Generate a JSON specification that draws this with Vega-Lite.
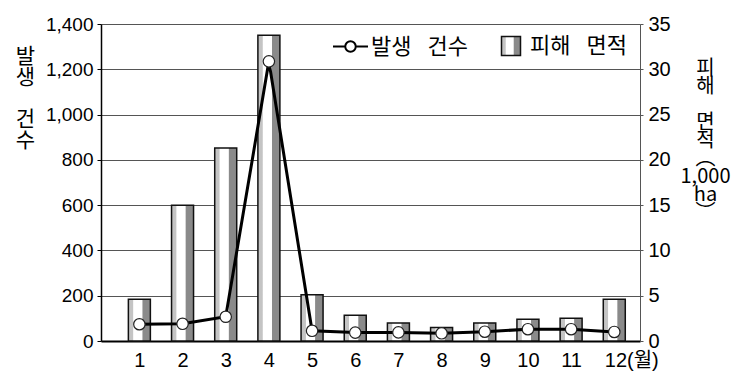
{
  "$schema": "https://vega.github.io/schema/vega-lite/v6.json",
  "width": 539,
  "height": 317,
  "autosize": "none",
  "padding": {"left": 101, "top": 24, "right": 101, "bottom": 42},
  "background": "white",
  "config": {"view": {"stroke": null}, "font": "Liberation Sans"},
  "data": {"values": [
    {"month": 1, "count": 74, "area": 4.6},
    {"month": 2, "count": 76, "area": 15.0},
    {"month": 3, "count": 107, "area": 21.3},
    {"month": 4, "count": 1235, "area": 33.75},
    {"month": 5, "count": 45, "area": 5.1},
    {"month": 6, "count": 37, "area": 2.85},
    {"month": 7, "count": 38, "area": 2.0},
    {"month": 8, "count": 34, "area": 1.5},
    {"month": 9, "count": 41, "area": 2.0},
    {"month": 10, "count": 52, "area": 2.4},
    {"month": 11, "count": 52, "area": 2.5},
    {"month": 12, "count": 40, "area": 4.6}
  ]},
  "encoding": {
    "x": {
      "field": "month", "type": "quantitative",
      "scale": {"domain": [0.227, 12.48], "nice": false, "zero": false},
      "axis": {
        "values": [1,2,3,4,5,6,7,8,9,10,11,12],
        "title": null, "grid": false, "ticks": false,
        "domainColor": "black", "domainWidth": 2,
        "labelFont": "Liberation Sans, Noto Sans CJK KR", "labelFontSize": 20, "labelColor": "black",
        "labelPadding": 9, "labelFlush": false, "labelOverlap": false,
        "labelExpr": "datum.value == 12 ? '12(월)' : datum.label",
        "labelAlign": {"condition": {"test": "datum.value == 12", "value": "left"}, "value": "center"},
        "labelOffset": {"condition": {"test": "datum.value == 12", "value": -10}, "value": 0}
      }
    }
  },
  "layer": [
    {
      "mark": {"type": "bar", "size": 22, "stroke": "#111", "strokeWidth": 1.5,
        "fill": {"gradient": "linear", "x1": 0, "y1": 0, "x2": 1, "y2": 0, "stops": [
            {"offset": 0, "color": "#c4c4c4"},
            {"offset": 0.2, "color": "#c4c4c4"},
            {"offset": 0.24, "color": "#ffffff"},
            {"offset": 0.62, "color": "#ffffff"},
            {"offset": 0.66, "color": "#8a8a8a"},
            {"offset": 1, "color": "#8a8a8a"}
        ]}},
      "encoding": {
        "y": {
          "field": "area", "type": "quantitative",
          "scale": {"domain": [0, 35], "nice": false},
          "axis": {
            "orient": "right", "values": [0,5,10,15,20,25,30,35], "format": "d", "grid": false,
            "tickSize": 3, "tickColor": "#555", "domainColor": "#555", "domainWidth": 1,
            "labelFontSize": 20, "labelPadding": 5, "labelColor": "black", "labelOverlap": false,
            "title": ["피","해","\u200b","면","적","︵","1,000","ha","︶"],
            "titleAngle": 0, "titleX": 65, "titleY": 34, "titleAlign": "center", "titleBaseline": "top",
            "titleFont": "Noto Sans CJK KR", "titleFontSize": 20, "titleFontWeight": "normal",
            "titleLineHeight": 18, "titleColor": "black"
          }
        },
        "opacity": {
          "datum": "피해 면적", "type": "nominal",
          "scale": {"range": [1]},
          "legend": {
            "orient": "none", "legendX": 399, "legendY": 11, "padding": 0,
            "title": null, "symbolType": "square", "symbolSize": 361,
            "labelFont": "Noto Sans CJK KR", "labelFontSize": 22, "labelColor": "black",
            "labelOffset": 8, "labelLimit": 0,
            "labelExpr": "replace(datum.label, ' ', '\u2002 ')",
            "encode": {"symbols": {"update": {
              "fill": {"value": {"gradient": "linear", "x1": 0, "y1": 0, "x2": 1, "y2": 0, "stops": [
                {"offset": 0, "color": "#c4c4c4"},
                {"offset": 0.2, "color": "#c4c4c4"},
                {"offset": 0.24, "color": "#ffffff"},
                {"offset": 0.62, "color": "#ffffff"},
                {"offset": 0.66, "color": "#8a8a8a"},
                {"offset": 1, "color": "#8a8a8a"}
              ]}},
              "stroke": {"value": "black"}, "strokeWidth": {"value": 1.5}, "opacity": {"value": 1}}}}
          }
        }
      }
    },
    {
      "mark": {"type": "line", "strokeWidth": 3},
      "encoding": {
        "y": {
          "field": "count", "type": "quantitative",
          "scale": {"domain": [0, 1400], "nice": false},
          "axis": {
            "orient": "left", "values": [0,200,400,600,800,1000,1200,1400], "format": ",d",
            "grid": true, "gridColor": "#555", "gridWidth": 1,
            "tickSize": 4, "tickColor": "black", "domainColor": "black", "domainWidth": 1.5,
            "labelFontSize": 19, "labelPadding": 4, "labelColor": "black", "labelOverlap": false,
            "title": ["발","생","\u200b","건","수"],
            "titleAngle": 0, "titleX": -76, "titleY": 21, "titleAlign": "center", "titleBaseline": "top",
            "titleFont": "Noto Sans CJK KR", "titleFontSize": 21, "titleFontWeight": "normal",
            "titleLineHeight": 21, "titleColor": "black"
          }
        },
        "stroke": {
          "datum": "발생 건수", "type": "nominal",
          "scale": {"range": ["black"]},
          "legend": {
            "orient": "none", "legendX": 231, "legendY": 4, "padding": 0,
            "title": null,
            "symbolType": "M-1,0L-0.3,0M0.3,0L1,0M0.3,0A0.3,0.3,0,1,1,-0.3,0A0.3,0.3,0,1,1,0.3,0",
            "symbolSize": 1225,
            "labelFont": "Noto Sans CJK KR", "labelFontSize": 22, "labelColor": "black",
            "labelOffset": 2, "labelLimit": 0,
            "labelExpr": "replace(datum.label, ' ', '\u2002 ')",
            "encode": {"symbols": {"update": {"fill": {"value": "white"}, "stroke": {"value": "black"}, "strokeWidth": {"value": 2}}}}
          }
        }
      }
    },
    {
      "mark": {"type": "point", "shape": "circle", "filled": true, "fill": "white", "stroke": "#222", "strokeWidth": 1.2, "size": 130, "opacity": 1},
      "encoding": {
        "y": {"field": "count", "type": "quantitative", "scale": {"domain": [0, 1400], "nice": false}, "axis": null}
      }
    }
  ],
  "resolve": {"scale": {"y": "independent"}}
}
